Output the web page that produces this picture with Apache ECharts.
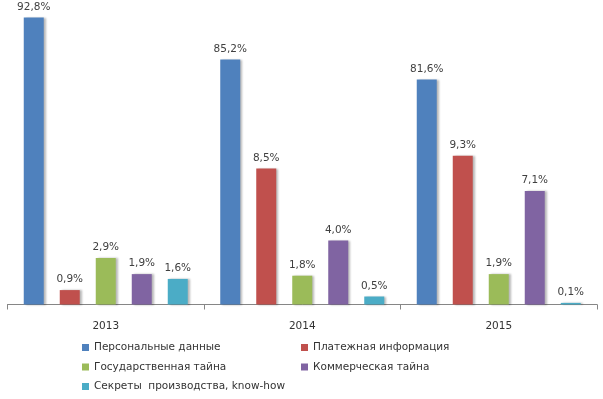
<!DOCTYPE html>
<html>
<head>
<meta charset="utf-8">
<script src="https://cdn.jsdelivr.net/npm/echarts@6/dist/echarts.min.js"></script>
<style>
html,body{margin:0;padding:0;background:#fff;}
#chart{width:603px;height:399px;}
</style>
</head>
<body>
<div id="chart"></div>
<script>
var categories = ['2013', '2014', '2015'];
var seriesNames = ['Персональные данные', 'Платежная информация', 'Государственная тайна', 'Коммерческая тайна', 'Секреты  производства, know-how'];
var personal = [92.8, 85.2, 81.6];
var payment = [0.9, 8.5, 9.3];
var stateSecret = [2.9, 1.8, 1.9];
var commercial = [1.9, 4.0, 7.1];
var knowhow = [1.6, 0.5, 0.1];
var colors = ['#4F81BD', '#C0504D', '#9BBB59', '#8064A2', '#4BACC6'];

var allData = [personal, payment, stateSecret, commercial, knowhow];
var font = 'DejaVu Sans';
var fs = 10.5;
var chart = echarts.init(document.getElementById('chart'), null, {renderer: 'canvas'});

var series = allData.map(function (d, i) {
  return {
    name: seriesNames[i],
    type: 'bar',
    data: d,
    barWidth: 20,
    barGap: '80%',
    itemStyle: {
      color: colors[i],
      shadowColor: 'rgba(0,0,0,0.28)',
      shadowBlur: 2,
      shadowOffsetX: 2,
      shadowOffsetY: 0
    },
    label: {
      show: true,
      position: 'top',
      distance: 5,
      color: '#404040',
      fontFamily: font,
      fontSize: fs,
      formatter: function (p) { return p.value.toFixed(1).replace('.', ',') + '%'; }
    }
  };
});

var legendPos = [
  {left: 82, top: 342},
  {left: 301, top: 342},
  {left: 82, top: 361.5},
  {left: 301, top: 361.5},
  {left: 82, top: 381}
];
var legends = seriesNames.map(function (n, i) {
  return {
    data: [n],
    left: legendPos[i].left,
    top: legendPos[i].top,
    padding: 0,
    icon: 'rect',
    itemWidth: 7,
    itemHeight: 7,
    itemGap: 5,
    selectedMode: false,
    textStyle: {color: '#333333', fontFamily: font, fontSize: fs}
  };
});

chart.setOption({
  animation: false,
  color: colors,
  grid: {left: 7.5, right: 6, top: 8, bottom: 94.5, containLabel: false},
  legend: legends,
  xAxis: {
    type: 'category',
    data: categories,
    axisLine: {lineStyle: {color: '#868686', width: 1}},
    axisTick: {show: true, length: 5, alignWithLabel: false, lineStyle: {color: '#868686'}},
    axisLabel: {color: '#333333', fontFamily: font, fontSize: fs, margin: 16}
  },
  yAxis: {
    type: 'value',
    min: 0,
    max: 93.4,
    show: true,
    axisLine: {show: false},
    axisTick: {show: false},
    axisLabel: {show: false},
    splitLine: {show: false},
    breaks: [
      {start: 10, end: 80, gap: 2.4625},
      {start: 82, end: 84.8, gap: 0.45},
      {start: 85.6, end: 92.2, gap: 1.625}
    ],
    breakArea: {show: false}
  },
  series: series
});
</script>
</body>
</html>
